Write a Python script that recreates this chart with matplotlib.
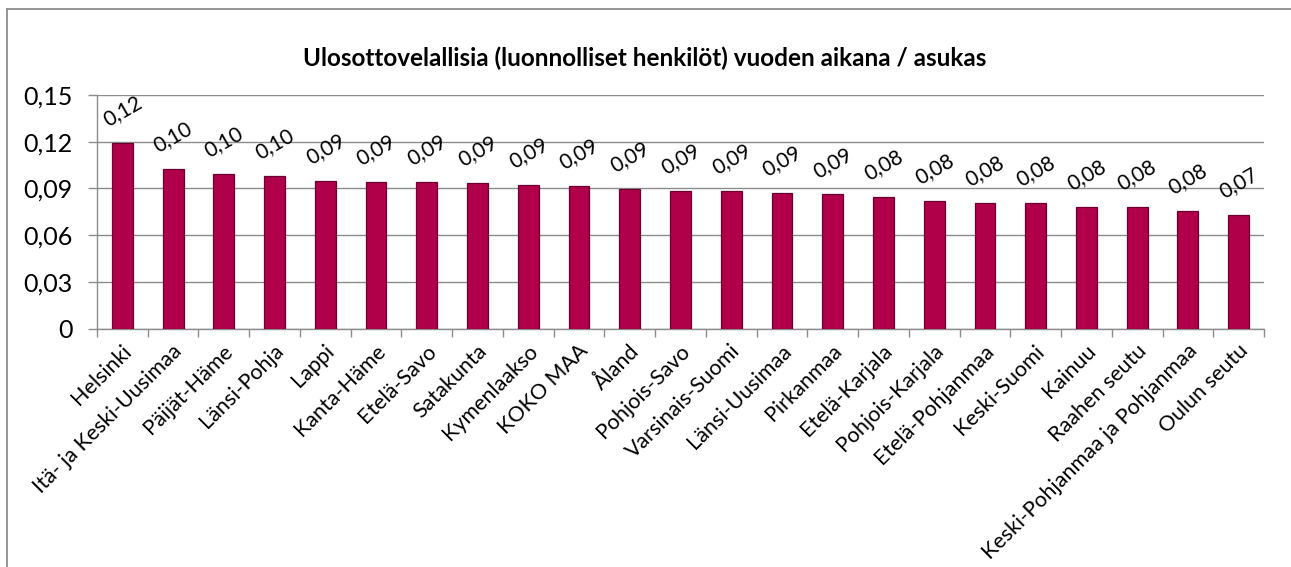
import matplotlib
matplotlib.use("Agg")
import matplotlib.pyplot as plt
from matplotlib.lines import Line2D
import matplotlib.transforms as mtransforms
import numpy as np

categories = ["Helsinki", "Itä- ja Keski-Uusimaa", "Päijät-Häme", "Länsi-Pohja", "Lappi",
              "Kanta-Häme", "Etelä-Savo", "Satakunta", "Kymenlaakso", "KOKO MAA", "Åland",
              "Pohjois-Savo", "Varsinais-Suomi", "Länsi-Uusimaa", "Pirkanmaa", "Etelä-Karjala",
              "Pohjois-Karjala", "Etelä-Pohjanmaa", "Keski-Suomi", "Kainuu", "Raahen seutu",
              "Keski-Pohjanmaa ja Pohjanmaa", "Oulun seutu"]
values = [0.1189, 0.1022, 0.0992, 0.0977, 0.0945, 0.0941, 0.0941, 0.0936, 0.0924, 0.0915,
          0.0896, 0.0883, 0.0883, 0.0870, 0.0861, 0.0842, 0.0821, 0.0808, 0.0808, 0.0782,
          0.0782, 0.0756, 0.0729]
yticks = [0, 0.03, 0.06, 0.09, 0.12, 0.15]
ytick_labels = ["0", "0,03", "0,06", "0,09", "0,12", "0,15"]
title = "Ulosottovelallisia (luonnolliset henkilöt) vuoden aikana / asukas"

plt.rcParams['font.family'] = ['Lato', 'DejaVu Sans']

W, H = 1291, 567
fig = plt.figure(figsize=(W / 100, H / 100), dpi=100)
fig.patch.set_facecolor("white")

# outer chart frame (top and left edges only visible)
frame_c = "#8c8c8c"
fig.add_artist(Line2D([7 / W, 1.0], [1 - 9 / H, 1 - 9 / H], transform=fig.transFigure,
                      color=frame_c, linewidth=1.3))
fig.add_artist(Line2D([7 / W, 7 / W], [0.0, 1 - 9 / H], transform=fig.transFigure,
                      color=frame_c, linewidth=1.3))

ax = fig.add_axes([97 / W, 1 - 328.5 / H, (1264 - 97) / W, (328.5 - 95) / H])
x = np.arange(len(categories))
ax.bar(x, values, width=0.41, color="#B0004A", edgecolor="#6a0030", linewidth=0.9, zorder=3)

ax.set_xlim(-0.5, len(categories) - 0.5)
ax.set_ylim(0, 0.15)
ax.set_yticks(yticks)
ax.set_yticklabels(ytick_labels, fontsize=18)
ax.yaxis.grid(True, color="#8c8c8c", linewidth=1.0, zorder=0)
ax.set_axisbelow(True)

ax.set_xticks(x)
ax.set_xticklabels(categories, rotation=45, ha="right", va="center", rotation_mode="anchor", fontsize=15.5)
ax.tick_params(axis="x", length=0, pad=14)
offset = mtransforms.ScaledTranslation(6 / 100, 0, fig.dpi_scale_trans)
for lab in ax.get_xticklabels():
    lab.set_transform(lab.get_transform() + offset)
ax.set_xticks(np.arange(len(categories) + 1) - 0.5, minor=True)
ax.tick_params(axis="x", which="minor", length=6, color="#8c8c8c", width=1.0)
ax.tick_params(axis="y", length=6.5, color="#8c8c8c", width=1.0, pad=11)

for s in ["top", "right"]:
    ax.spines[s].set_visible(False)
for s in ["left", "bottom"]:
    ax.spines[s].set_color("#8c8c8c")
    ax.spines[s].set_linewidth(1.0)

for xi, v in zip(x, values):
    ax.annotate(f"{v:.2f}".replace(".", ","), (xi, v), xytext=(0, 23), textcoords="offset points",
                ha="center", va="center", rotation=30, fontsize=15)

fig.text(645 / W, 1 - 58 / H, title, ha="center", va="center", fontsize=17.5, fontweight="bold")

fig.savefig("out.png", dpi=100)
